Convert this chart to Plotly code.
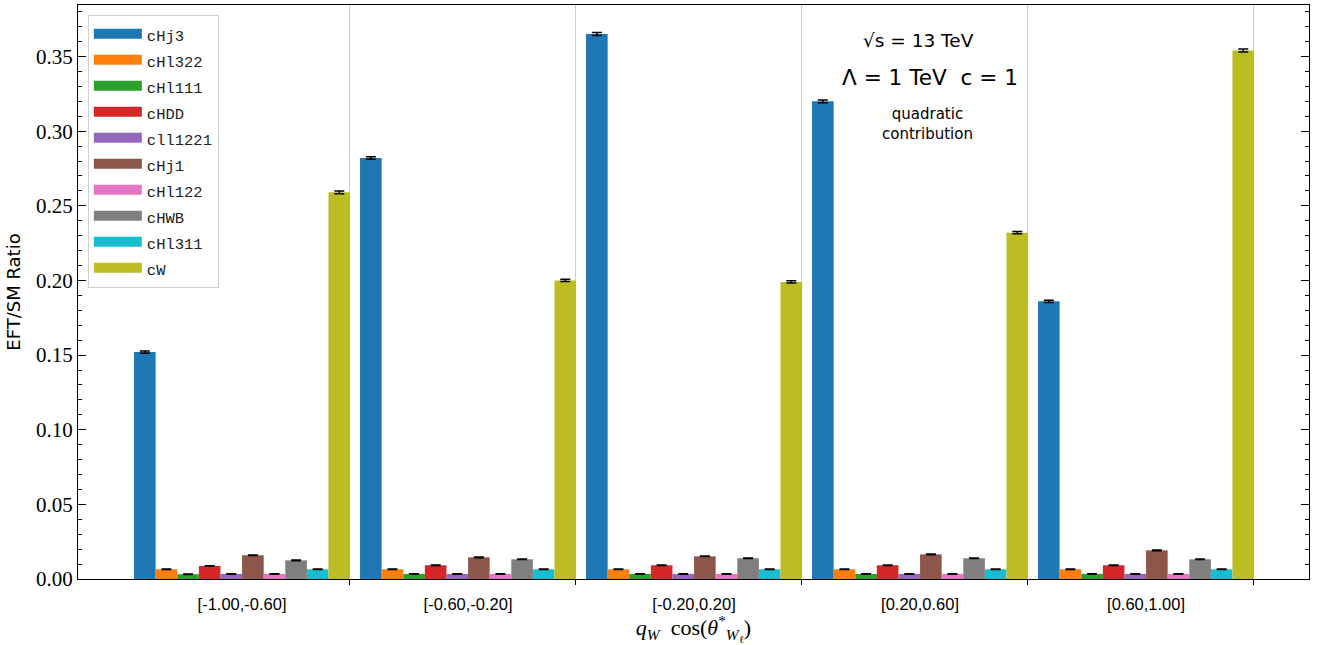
import plotly.graph_objects as go

bins = ["[-1.00,-0.60]", "[-0.60,-0.20]", "[-0.20,0.20]", "[0.20,0.60]", "[0.60,1.00]"]
names = ["cHj3", "cHl322", "cHl111", "cHDD", "cll1221", "cHj1", "cHl122", "cHWB", "cHl311", "cW"]
colors = ["#1f77b4", "#ff7f0e", "#2ca02c", "#d62728", "#9467bd",
          "#8c564b", "#e377c2", "#7f7f7f", "#17becf", "#bcbd22"]

values = {
    "cHj3":    [0.152, 0.282, 0.365, 0.320, 0.186],
    "cHl322":  [0.0065, 0.0065, 0.0065, 0.0065, 0.0065],
    "cHl111":  [0.0032, 0.0034, 0.0034, 0.0034, 0.0034],
    "cHDD":    [0.0087, 0.0092, 0.0092, 0.0092, 0.0092],
    "cll1221": [0.0034, 0.0034, 0.0034, 0.0034, 0.0034],
    "cHj1":    [0.0159, 0.0145, 0.0152, 0.0165, 0.0192],
    "cHl122":  [0.0034, 0.0034, 0.0034, 0.0034, 0.0034],
    "cHWB":    [0.0125, 0.0132, 0.0139, 0.0139, 0.0132],
    "cHl311":  [0.0065, 0.0065, 0.0065, 0.0065, 0.0065],
    "cW":      [0.259, 0.200, 0.199, 0.232, 0.354],
}
errors = {
    "cHj3":    [0.0008, 0.0009, 0.0010, 0.0009, 0.0008],
    "cW":      [0.0009, 0.0008, 0.0008, 0.0008, 0.0010],
}
small_err = [0.0002] * 5

xpos = list(range(len(bins)))

fig = go.Figure()
for n, c in zip(names, colors):
    fig.add_trace(go.Bar(
        x=xpos, y=values[n], name=n, legendgroup=n, showlegend=False,
        marker=dict(color=c, line=dict(width=0)),
        error_y=dict(type="data", array=errors.get(n, small_err), color="black",
                     thickness=1.5, width=5),
    ))
# legend patches (wide rectangles like the reference legend)
for n, c in zip(names, colors):
    fig.add_trace(go.Scatter(
        x=[None], y=[None], mode="lines",
        name=f"<span style='font-size:15.5px'>{n}</span>", legendgroup=n,
        line=dict(color=c, width=13), hoverinfo="skip",
    ))

fig.update_layout(
    width=1319, height=645,
    margin=dict(l=78, r=10, t=5, b=66),
    paper_bgcolor="white", plot_bgcolor="white",
    barmode="group", bargap=0.044, bargroupgap=0,
    showlegend=True,
    legend=dict(x=0.008, y=0.983, xanchor="left", yanchor="top",
                bgcolor="white", bordercolor="#d0d0d0", borderwidth=1,
                font=dict(family="Liberation Mono", size=17.7, color="#222"),
                itemwidth=48, tracegroupgap=0),
    font=dict(family="DejaVu Sans", color="black"),
    xaxis=dict(
        range=[-0.726, 4.721], tickmode="array", tickvals=xpos, ticktext=bins,
        ticks="", showgrid=False, zeroline=False, ticklabelstandoff=10,
        showline=True, linecolor="black", linewidth=1, mirror=True,
        tickfont=dict(family="Liberation Sans", size=16.5, color="black"),
        minor=dict(tickmode="array", tickvals=[i + 0.475 for i in xpos],
                   ticks="outside", ticklen=5, tickcolor="black", tickwidth=1,
                   showgrid=True, gridcolor="#cfcfcf", gridwidth=1),
        title=dict(text="<i>q<sub>W</sub></i>&nbsp; cos(<i>θ</i><sup>*</sup><sub><i>W</i><sub>ℓ</sub></sub>)",
                   font=dict(family="Liberation Serif", size=22), standoff=0),
    ),
    yaxis=dict(
        range=[0, 0.3845], tickmode="linear", tick0=0, dtick=0.05, tickformat=".2f",
        ticks="inside", ticklen=8, tickwidth=1, tickcolor="black",
        showgrid=False, zeroline=False,
        showline=True, linecolor="black", linewidth=1, mirror="allticks",
        tickfont=dict(family="Liberation Serif", size=21, color="black"),
        minor=dict(dtick=0.01, tick0=0, ticks="inside", ticklen=4, tickcolor="black",
                   tickwidth=1, showgrid=False),
        title=dict(text="EFT/SM Ratio", font=dict(family="DejaVu Sans", size=18), standoff=10),
    ),
)

ann_font = dict(family="DejaVu Sans", color="black")
fig.add_annotation(x=0.683, y=0.939, xref="paper", yref="paper", text="√s = 13 TeV",
                   xanchor="center", yanchor="middle", showarrow=False,
                   font=dict(size=18.5, **ann_font))
fig.add_annotation(x=0.692, y=0.873, xref="paper", yref="paper", text="Λ = 1 TeV  c = 1",
                   xanchor="center", yanchor="middle", showarrow=False,
                   font=dict(size=21.6, **ann_font))
fig.add_annotation(x=0.690, y=0.792, xref="paper", yref="paper", text="quadratic<br>contribution",
                   xanchor="center", yanchor="middle", showarrow=False,
                   font=dict(size=15, **ann_font))

fig.write_html("out.html")
